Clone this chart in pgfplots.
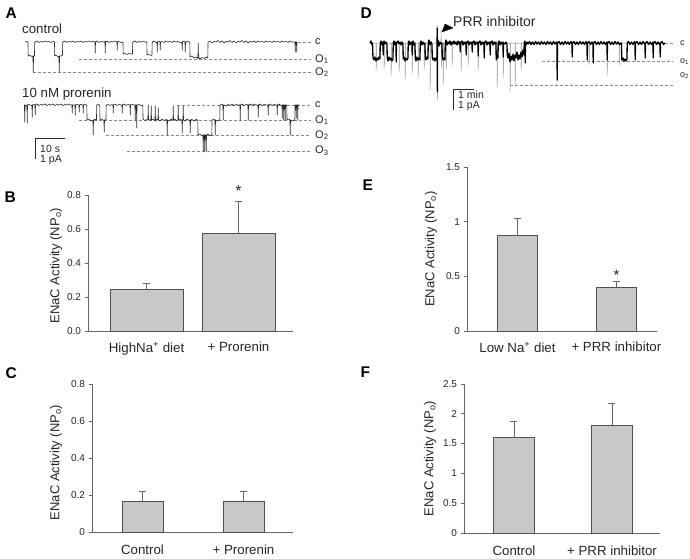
\documentclass[border=0pt]{standalone}
\usepackage{pgfplots}
\pgfplotsset{compat=1.18}
\usepackage{fontspec}
\setmainfont{Liberation Sans}
\definecolor{axc}{HTML}{666666}
\definecolor{barfill}{HTML}{C8C8C8}
\definecolor{bardraw}{HTML}{505050}
\definecolor{txc}{HTML}{262626}
\definecolor{trc}{HTML}{2A2A2A}
\definecolor{grc}{HTML}{8C8C8C}
\definecolor{dashc}{HTML}{8A8A8A}
\newcommand\ftick{\fontsize{10}{12}\selectfont}
\newcommand\fxl{\fontsize{13.3}{16}\selectfont}
\newcommand\fyl{\fontsize{13}{15}\selectfont}
\newcommand\fpanel{\fontsize{15.5}{18}\selectfont\bfseries}
\newcommand\flab{\fontsize{11}{13}\selectfont}
\newcommand\fsmall{\fontsize{9}{11}\selectfont}
\newcommand\fscale{\fontsize{10.5}{12}\selectfont}
\pgfplotsset{
  barax/.style={
    scale only axis, axis x line=bottom, axis y line=left,
    axis line style={-, draw=axc, line width=0.8pt},
    tick align=outside, major tick length=3.5pt,
    ytick style={draw=axc, line width=0.8pt},
    xtick style={draw=none},
    xtick={0,1}, ymin=0, enlargelimits=false,
    yticklabel style={font=\ftick, text=txc},
    xticklabel style={font=\fxl, text=txc, anchor=north},
    /pgf/number format/assume math mode=true,
    ybar, clip=false,
    error bars/y dir=plus, error bars/y explicit,
    error bars/error bar style={draw=axc, line width=0.8pt},
    error bars/error mark options={rotate=90, mark size=3.5pt, draw=axc, line width=0.8pt},
  },
  barst/.style={fill=barfill, draw=bardraw, line width=0.8pt},
}
\begin{document}
\begin{tikzpicture}
\useasboundingbox (0,0) rectangle (690pt,558pt);
% ---------------- canvas for traces (pixel coordinates) ----------------
\begin{axis}[at={(0,0)}, anchor=south west, scale only axis, width=690pt, height=558pt,
  xmin=0, xmax=690, ymin=0, ymax=558, y dir=reverse, hide axis, clip=false, no markers,
  every axis plot/.append style={line join=round}]
% dashed level lines, control
\addplot[dashc, dash pattern=on 3pt off 2pt, line width=0.6pt] coordinates {(298,42)(311,42)};
\addplot[dashc, dash pattern=on 3pt off 2pt, line width=0.6pt] coordinates {(79,59)(311,59)};
\addplot[dashc, dash pattern=on 3pt off 2pt, line width=0.6pt] coordinates {(33,72)(311,72)};
% dashed level lines, prorenin
\addplot[dashc, dash pattern=on 3pt off 2pt, line width=0.6pt] coordinates {(177,105)(311,105)};
\addplot[dashc, dash pattern=on 3pt off 2pt, line width=0.6pt] coordinates {(79,120)(311,120)};
\addplot[dashc, dash pattern=on 3pt off 2pt, line width=0.6pt] coordinates {(106,135)(311,135)};
\addplot[dashc, dash pattern=on 3pt off 2pt, line width=0.6pt] coordinates {(127,151)(311,151)};
% control trace
\addplot[trc, line width=0.65pt] coordinates {
(25,42)(27,41.5)(28,42)(28.2,56)(30,55.5)(32,56.5)(33,56)(33.2,72)(33.6,56)(34.5,56)(34.7,42)(37,41)(39,42.5)(41,41.5)(43,42)(45,41)(47,42)(49,41.5)(51,42.5)(53,41.5)(54.5,42)
(54.7,56)(56,55)(58,57)(59,56)(59.2,72)(59.6,56)(61,56)(62.5,55)(62.7,42)
(65,41)(67,42.5)(69,41.5)(71,42)(73,41)(75,42.5)(77,41.5)(79,42)(81,41)(83,42.5)(85,41.5)(87,42)(89,41)(91,42)(93,41.5)(95,42)(95.2,53)(95.5,42)(97,41)(99,42.5)(101,41.5)(103,42)(105,41.5)(105.2,53)(105.5,42)(107,41)(109,42.5)(111,41.5)(113,42)(115,41)(117,42)(117.2,50)(117.5,42)(119,41.5)(121,42.5)(123,42)
(123.2,54)(125,53.5)(127,54.5)(129,53.5)(131,54)(132.5,54)(132.7,42)(135,41)(137,42.5)(139,41.5)(141,42)(143,41)(145,42)(146.8,42)
(147,55)(149,54.5)(151,55.5)(152,55)(152.2,42)(154,41)(156,42.5)(157,42)(157.2,52)(157.5,42)(159,41)(160,42)(160.2,50)(160.5,42)(162,41.5)(164,42.5)(166,41)(168,42)(170,41.5)(172,42.5)(174,41)(176,42)(178,41.5)(180,42.5)(182,42)(182.2,50)(182.5,42)(184,41)(185,42)(185.2,52)(185.5,42)(187,41.5)(189.8,42)
(190,57)(192,56)(194,58)(196,57)(198,58.5)(198.2,43)(198.5,57)(200,59)(202,57.5)(204,58.5)(206,57)(207.8,58)(208,42)
(210,41)(212,43)(214,41.5)(216,42)(218,40.5)(220,42.5)(222,41)(224,43)(226,41.5)(228,42)(230,40.5)(232,42.5)(234,41)(236,43)(238,41)(240,42)(242,40.5)(244,42.5)(246,41)(248,43)(250,41.5)(252,42)(254,41)(256,42.5)(258,41)(260,42)(262,41.5)(264,42.5)(266,41)(268,42)(270,41.5)(272,42.5)(274,41)(276,42)(278,41.5)(280,42.5)(282,41)(284,42)(286,41.5)(288,42.5)(290,41)(292,42)(294,42)(295,42)(295.2,52)(295.5,42)(296.5,42)(296.7,52)(297,42)};
% prorenin trace
\addplot[trc, line width=0.65pt] coordinates {
(24,105)(24.5,105)(24.7,122)(25,105)(26,106)(27,105)(27.2,123)(27.5,105)(29,104.5)(31,105.5)(32,105)(32.2,117)(32.5,105)(34,104.5)(35,105)(35.2,115)(35.5,105)(37,104)(39,105.5)(41,104.5)(43,105)(45,104)(47,105.5)(49,104.5)(51,105)(53,104)(55,105.5)(57,104.5)(59,105)(61,104)(63,105.5)(65,104.5)(67,105)(69,104)(71,105)(72,105)(72.2,113)(72.5,105)(75,105)(75.2,115)(75.5,105)(77,104.5)(79,105)(79.2,112)(79.5,105)(81,104.5)(83,105)(83.2,113)(83.5,105)(85,104.5)(86.8,105)
(87,120)(89,119)(91,121)(93,120)(93.2,135)(93.5,120)(95,119.5)(96.5,120)(96.7,105)(98,104.5)(99.8,105)(100,120)(102,119)(104,121)(104.2,132)(104.5,120)(106,120)(106.2,105)
(108,104.5)(110,105.5)(112,104.5)(113,105)(113.2,113)(113.5,105)(115,104)(117,105.5)(119,104.5)(121,105)(122,105)(122.2,113)(122.5,105)(124,104)(126,105.5)(128,104.5)(130,105)(130.2,115)(130.5,105)(132,104.5)(134,105)(135,105)(135.2,120)(135.5,105)(136.5,105)(136.7,128)(137,105)(139,104.5)(141,105.5)(142.8,105)
(143,119)(145,120.5)(147,119.5)(148,120)(148.2,105)(148.5,119)(150,120.5)(151,119)(151.2,106)(151.5,120)(153,119)(155,121)(155.2,106)(155.5,120)(157,119.5)(158,120)(158.2,108)(158.5,120)(160,121)(162,119)(164,120.5)(166,119.5)(167,120)(167.2,135)(167.5,120)(169,121)(171,119)(173,120.5)(173.2,106)(173.5,120)(175,119)(177,121)(178,120)(178.2,106)(178.5,120)(180,119.5)(182,120)(182.2,133)(182.5,120)(183,120)(183.2,106)(183.5,120)(185,121)(187,119)(189,120.5)(190,120)(190.2,133)(190.5,120)(192,119.5)(194,121)(196,119.5)(197.8,120)
(198,135)(200,134)(202,136)(203,135)(203.2,151)(203.5,135)(204.5,135)(204.7,152)(205,135)(206,135)(206.2,151)(206.5,135)(208,134)(210,136)(211.8,135)
(212,120)(214,119)(215,120)(215.2,135)(215.5,120)(217,121)(219.8,120)
(220,105)(222,104)(223,105)(223.2,120)(223.5,105)(226,106)(228,104.5)(230,105.5)(232,104)(234,105.5)(236,104.5)(238,105)(240,105)(240.2,120)(240.5,105)(242,104)(244,105.5)(246,104.5)(248,105)(248.2,120)(248.5,105)(250,104)(252,105.5)(254,104)(256,105)(258,105)(258.2,117)(258.5,105)(260,104)(262,105.5)(264,104.5)(266,105)(268,105)(268.2,115)(268.5,105)(270,104)(272,105.5)(274,104.5)(276,105)(277,105)(277.2,115)(277.5,105)(279,104)(281,105.5)(282,105)(282.2,118)(282.5,105)(283.5,105)(283.7,120)(284,105)(285,105)(285.2,120)(285.5,105)(286.8,105)
(287,120)(289,119)(290,120)(290.2,135)(290.5,120)(292,121)(294.8,120)(295,105)(296,105)(296.2,118)(296.5,105)(297.5,105)(297.7,120)(298,105)(299,105)};
% scale bar A
\addplot[trc, line width=0.7pt] coordinates {(65,138)(35,138)(35,159)};
% ---------------- D trace ----------------
\addplot[dashc, dash pattern=on 3pt off 2pt, line width=0.6pt] coordinates {(665,43)(673,43)};
\addplot[dashc, dash pattern=on 3pt off 2pt, line width=0.6pt] coordinates {(542,61)(673,61)};
\addplot[dashc, dash pattern=on 3pt off 2pt, line width=0.6pt] coordinates {(510,85)(673,85)};
\addplot[grc, line width=0.5pt] coordinates {
(370,43)(376,43)(376.2,70)(376.5,43)(384,43)(384.2,68)(384.5,43)(391,43)(391.2,75)(391.5,43)(399,43)(399.2,72)(399.5,43)(405,43)(405.2,80)(405.5,43)(412,43)(412.2,73)(412.5,43)(418,43)(418.2,78)(418.5,43)(424,43)(424.2,70)(424.5,43)(430,43)(430.2,90)(430.5,43)(437,43)(437.2,25)(437.4,100)(437.6,43)(441,43)(441.2,30)(441.4,67)(441.6,43)(443,43)(443.2,85)(443.5,43)(446,43)(446.2,70)(446.5,43)(452,43)(452.2,65)(452.5,43)(461,43)(461.2,72)(461.5,43)(468,43)(468.2,65)(468.5,43)(478,43)(478.2,70)(478.5,43)(497,43)(497.2,88)(497.5,43)(503,43)(503.2,78)(503.5,43)(510,43)(510.2,92)(510.5,43)(515,43)(515.2,85)(515.5,43)(521,43)(521.2,70)(521.5,43)(557,43)(557.2,82)(557.5,43)(589,43)(589.2,65)(589.5,43)(607,43)(607.2,75)(607.5,43)(619,43)(619.2,65)(619.5,43)(665,43)};
\addplot[black, line width=1.3pt] coordinates {
(370,43)(371,41)(372,45)(372.5,43)(373,58)(374,60)(375,57)(376,61)(377,58)(378,60)(379,57)(380,59)(380.2,43)(381,41)(382,45)(383,42)(383.2,55)(383.5,43)(384,41)(385,44)(386,42)(387,44)(387.2,58)(388,61)(389,57)(390,60)(391,58)(392,61)(393,59)(393.2,43)(394,41)(395,45)(396,42)(396.2,62)(396.5,43)(398,41)(399,44)(400,42)(401,45)(402,42)(403,44)(403.2,59)(404,57)(405,61)(406,58)(407,60)(408,58)(408.2,43)(409,41)(410,45)(411,42)(412,44)(412.2,55)(412.5,43)(413,41)(414,45)(415,43)(415.2,58)(416,61)(417,57)(418,60)(419,58)(420,60)(420.2,43)(421,41)(422,45)(423,42)(424,44)(425,43)(425.2,58)(426,60)(427,57)(428,59)(428.2,43)(429,40)(430,45)(431,42)(432,44)(432.2,57)(433,60)(434,58)(435,61)(436,58)(437,60)(437.2,28)(437.4,92)(437.6,43)(438,40)(439,46)(440,42)(441,44)(442,43)(442.2,57)(443,60)(444,58)(445,60)(445.2,43)(446,40)(447,45)
(448,42)(449,44)(450,41)(451,45)(452,42)(453,44)(454,41)(455,44)(456,42)(457,45)(458,41)(459,44)(460,42)(460.2,52)(460.5,43)(462,41)(463,45)(464,42)(465,44)(466,42)(466.2,55)(466.5,43)(468,41)(469,45)(470,42)(471,44)(472,42)(472.2,52)(472.5,43)(474,41)(475,45)(476,42)(477,44)(478,42)(478.2,56)(478.5,43)(480,41)(481,45)(482,42)(483,44)(484,42)(484.2,58)(484.5,43)(486,41)(487,45)(488,42)(489,44)(490,42)(490.2,55)(490.5,43)(492,41)(493,45)(494,42)(495,44)(496,42)(496.2,60)(497,55)(498,58)(498.2,43)(499,41)(500,45)(501,42)(502,44)(503,42)(503.2,57)(503.5,43)(505,44)(506,42)
(507,44)(507.2,55)(508,58)(509,53)(510,62)(511,56)(512,60)(513,54)(514,61)(515,55)(516,58)(517,52)(518,60)(519,55)(520,59)(521,52)(522,57)(523,50)(524,55)(524.2,43)(525,41)(525.2,63)(525.5,43)(526,45)(527,42)(528,44)
(529.5,41.5)(531,44.5)(532.5,42)(534,44.5)(535.5,41.5)(537,44)(538.5,42)(540,44.5)(541.5,41.5)(543,44)(544.5,42)(546,44.5)(547.5,41.5)(549,44)(550.5,42)(552,44.5)(553.5,41.5)(555,44)(556.5,42)(557,44)(557.2,80)(557.5,43)(559,41.5)(560.5,44.5)(562,42)(563.5,44.5)(565,41.5)(566.5,44)(568,42)(569.5,44.5)(571,41.5)(572,44)(572.2,57)(572.5,43)(574,41.5)(575.5,44.5)(577,42)(578.5,44.5)(580,41.5)(581.5,44)(583,42)(584.5,44.5)(586,41.5)(587,44)(587.2,60)(587.5,43)(589,41.5)(590.5,44.5)(592,42)(593,44)(593.2,63)(593.5,43)(595,41.5)(596.5,44.5)(598,42)(599.5,44.5)(601,41.5)(602.5,44)(604,42)(605.5,44.5)(607,42)(607.2,60)(607.5,43)(609,41.5)(610.5,44.5)(612,42)(613.5,44.5)(615,41.5)(616.5,44)(618,42)(619.5,44.5)(621,43)(621.5,43)(621.7,60)(623,58)(624,61)(625,59)(626,61)(627,59)(627.2,43)(628.5,41.5)(630,44.5)(631.5,42)(633,44.5)(634.5,41.5)(635,44)(635.2,60)(635.5,43)(637,41.5)(638.5,44.5)(640,42)(641.5,44.5)(643,41.5)(644.5,44)(645,43)(645.2,58)(645.5,43)(647,41.5)(648.5,44.5)(650,42)(651.5,44.5)(653,42)(653.2,58)(653.5,43)(655,41.5)(656.5,44.5)(658,42)(659.5,44.5)(660,43)(660.2,57)(660.5,43)(662,41.5)(663.5,44.5)(665,43)};
% arrowhead
\addplot[black, fill=black, line width=0.3pt] coordinates {(442,32)(445,24)(453,28)} -- cycle;
% scale bar D
\addplot[trc, line width=0.7pt] coordinates {(474,89)(453,89)(453,110)};
% ---------------- texts ----------------
\node[anchor=base west, font=\fpanel, text=black] at (axis cs:2,18) {A};
\node[anchor=base west, font=\fpanel, text=black] at (axis cs:1,202) {B};
\node[anchor=base west, font=\fpanel, text=black] at (axis cs:2,378) {C};
\node[anchor=base west, font=\fpanel, text=black] at (axis cs:357,18) {D};
\node[anchor=base west, font=\fpanel, text=black] at (axis cs:359,190) {E};
\node[anchor=base west, font=\fpanel, text=black] at (axis cs:357,377) {F};
\node[anchor=base west, font=\fxl, text=txc, inner sep=0pt] at (axis cs:22,33) {control};
\node[anchor=base west, font=\fxl, text=txc, inner sep=0pt] at (axis cs:22,97) {10 nM prorenin};
\node[anchor=base west, font=\fscale, text=txc, inner sep=0pt] at (axis cs:40,152) {10 s};
\node[anchor=base west, font=\fscale, text=txc, inner sep=0pt] at (axis cs:40,162) {1 pA};
\node[anchor=west, font=\flab, text=txc, inner sep=0pt] at (axis cs:315,42) {c};
\node[anchor=west, font=\flab, text=txc, inner sep=0pt] at (axis cs:315,59) {O\textsubscript{1}};
\node[anchor=west, font=\flab, text=txc, inner sep=0pt] at (axis cs:315,72) {O\textsubscript{2}};
\node[anchor=west, font=\flab, text=txc, inner sep=0pt] at (axis cs:315,105) {c};
\node[anchor=west, font=\flab, text=txc, inner sep=0pt] at (axis cs:315,120) {O\textsubscript{1}};
\node[anchor=west, font=\flab, text=txc, inner sep=0pt] at (axis cs:315,135) {O\textsubscript{2}};
\node[anchor=west, font=\flab, text=txc, inner sep=0pt] at (axis cs:315,151) {O\textsubscript{3}};
\node[anchor=base west, font=\fontsize{14}{16}\selectfont, text=txc, inner sep=0pt] at (axis cs:453,26) {PRR inhibitor};
\node[anchor=base west, font=\fscale, text=txc, inner sep=0pt] at (axis cs:458,98) {1 min};
\node[anchor=base west, font=\fscale, text=txc, inner sep=0pt] at (axis cs:458,108) {1 pA};
\node[anchor=west, font=\fsmall, text=txc, inner sep=0pt] at (axis cs:680,43) {c};
\node[anchor=west, font=\fsmall, text=txc, inner sep=0pt] at (axis cs:680,62) {o\textsubscript{1}};
\node[anchor=west, font=\fsmall, text=txc, inner sep=0pt] at (axis cs:680,76) {o\textsubscript{2}};
\end{axis}
% ---------------- B ----------------
\begin{axis}[barax, at={(88pt,227pt)}, anchor=south west, width=205pt, height=136pt,
  xmin=-0.636, xmax=1.592, ymax=0.8, bar width=0.793,
  ytick={0,0.2,0.4,0.6,0.8},
  yticklabel style={/pgf/number format/.cd, fixed, fixed zerofill, precision=1},
  xticklabels={HighNa\textsuperscript{+} diet, + Prorenin},
  xticklabel style={yshift=-4pt}]
\addplot[barst] coordinates {(0,0.242) +- (0,0.037) (1,0.572) +- (0,0.191)};
\node[font=\fontsize{16}{18}\selectfont, text=txc] at (axis cs:1,0.822) {*};
\node[rotate=90, font=\fyl, text=txc] at (axis description cs:-0.156,0.48) {ENaC Activity (NP\textsubscript{o})};
\end{axis}
% ---------------- C ----------------
\begin{axis}[barax, at={(92pt,26pt)}, anchor=south west, width=201pt, height=148pt,
  xmin=-0.5, xmax=1.49, ymax=0.8, bar width=0.406,
  ytick={0,0.2,0.4,0.6,0.8},
  xticklabels={Control, + Prorenin},
  xticklabel style={yshift=-6pt}]
\addplot[barst] coordinates {(0,0.165) +- (0,0.055) (1,0.168) +- (0,0.052)};
\node[rotate=90, font=\fyl, text=txc] at (axis description cs:-0.179,0.47) {ENaC Activity (NP\textsubscript{o})};
\end{axis}
% ---------------- E ----------------
\begin{axis}[barax, at={(467pt,227pt)}, anchor=south west, width=190pt, height=164pt,
  xmin=-0.51, xmax=1.41, ymax=1.5, bar width=0.404,
  ytick={0,0.5,1,1.5},
  xticklabels={Low Na\textsuperscript{+} diet, + PRR inhibitor},
  xticklabel style={yshift=-4pt}]
\addplot[barst] coordinates {(0,0.872) +- (0,0.158) (1,0.40) +- (0,0.054)};
\node[font=\fontsize{15}{17}\selectfont, text=txc] at (axis cs:1,0.51) {*};
\node[rotate=90, font=\fyl, text=txc] at (axis description cs:-0.19,0.5) {ENaC Activity (NP\textsubscript{o})};
\end{axis}
% ---------------- F ----------------
\begin{axis}[barax, at={(464pt,25pt)}, anchor=south west, width=196pt, height=149pt,
  xmin=-0.51, xmax=1.49, ymax=2.5, bar width=0.41,
  ytick={0,0.5,1,1.5,2,2.5},
  xticklabels={Control, + PRR inhibitor},
  xticklabel style={yshift=-6pt}]
\addplot[barst] coordinates {(0,1.60) +- (0,0.276) (1,1.81) +- (0,0.37)};
\node[rotate=90, font=\fyl, text=txc] at (axis description cs:-0.173,0.5) {ENaC Activity (NP\textsubscript{o})};
\end{axis}
\end{tikzpicture}
\end{document}
